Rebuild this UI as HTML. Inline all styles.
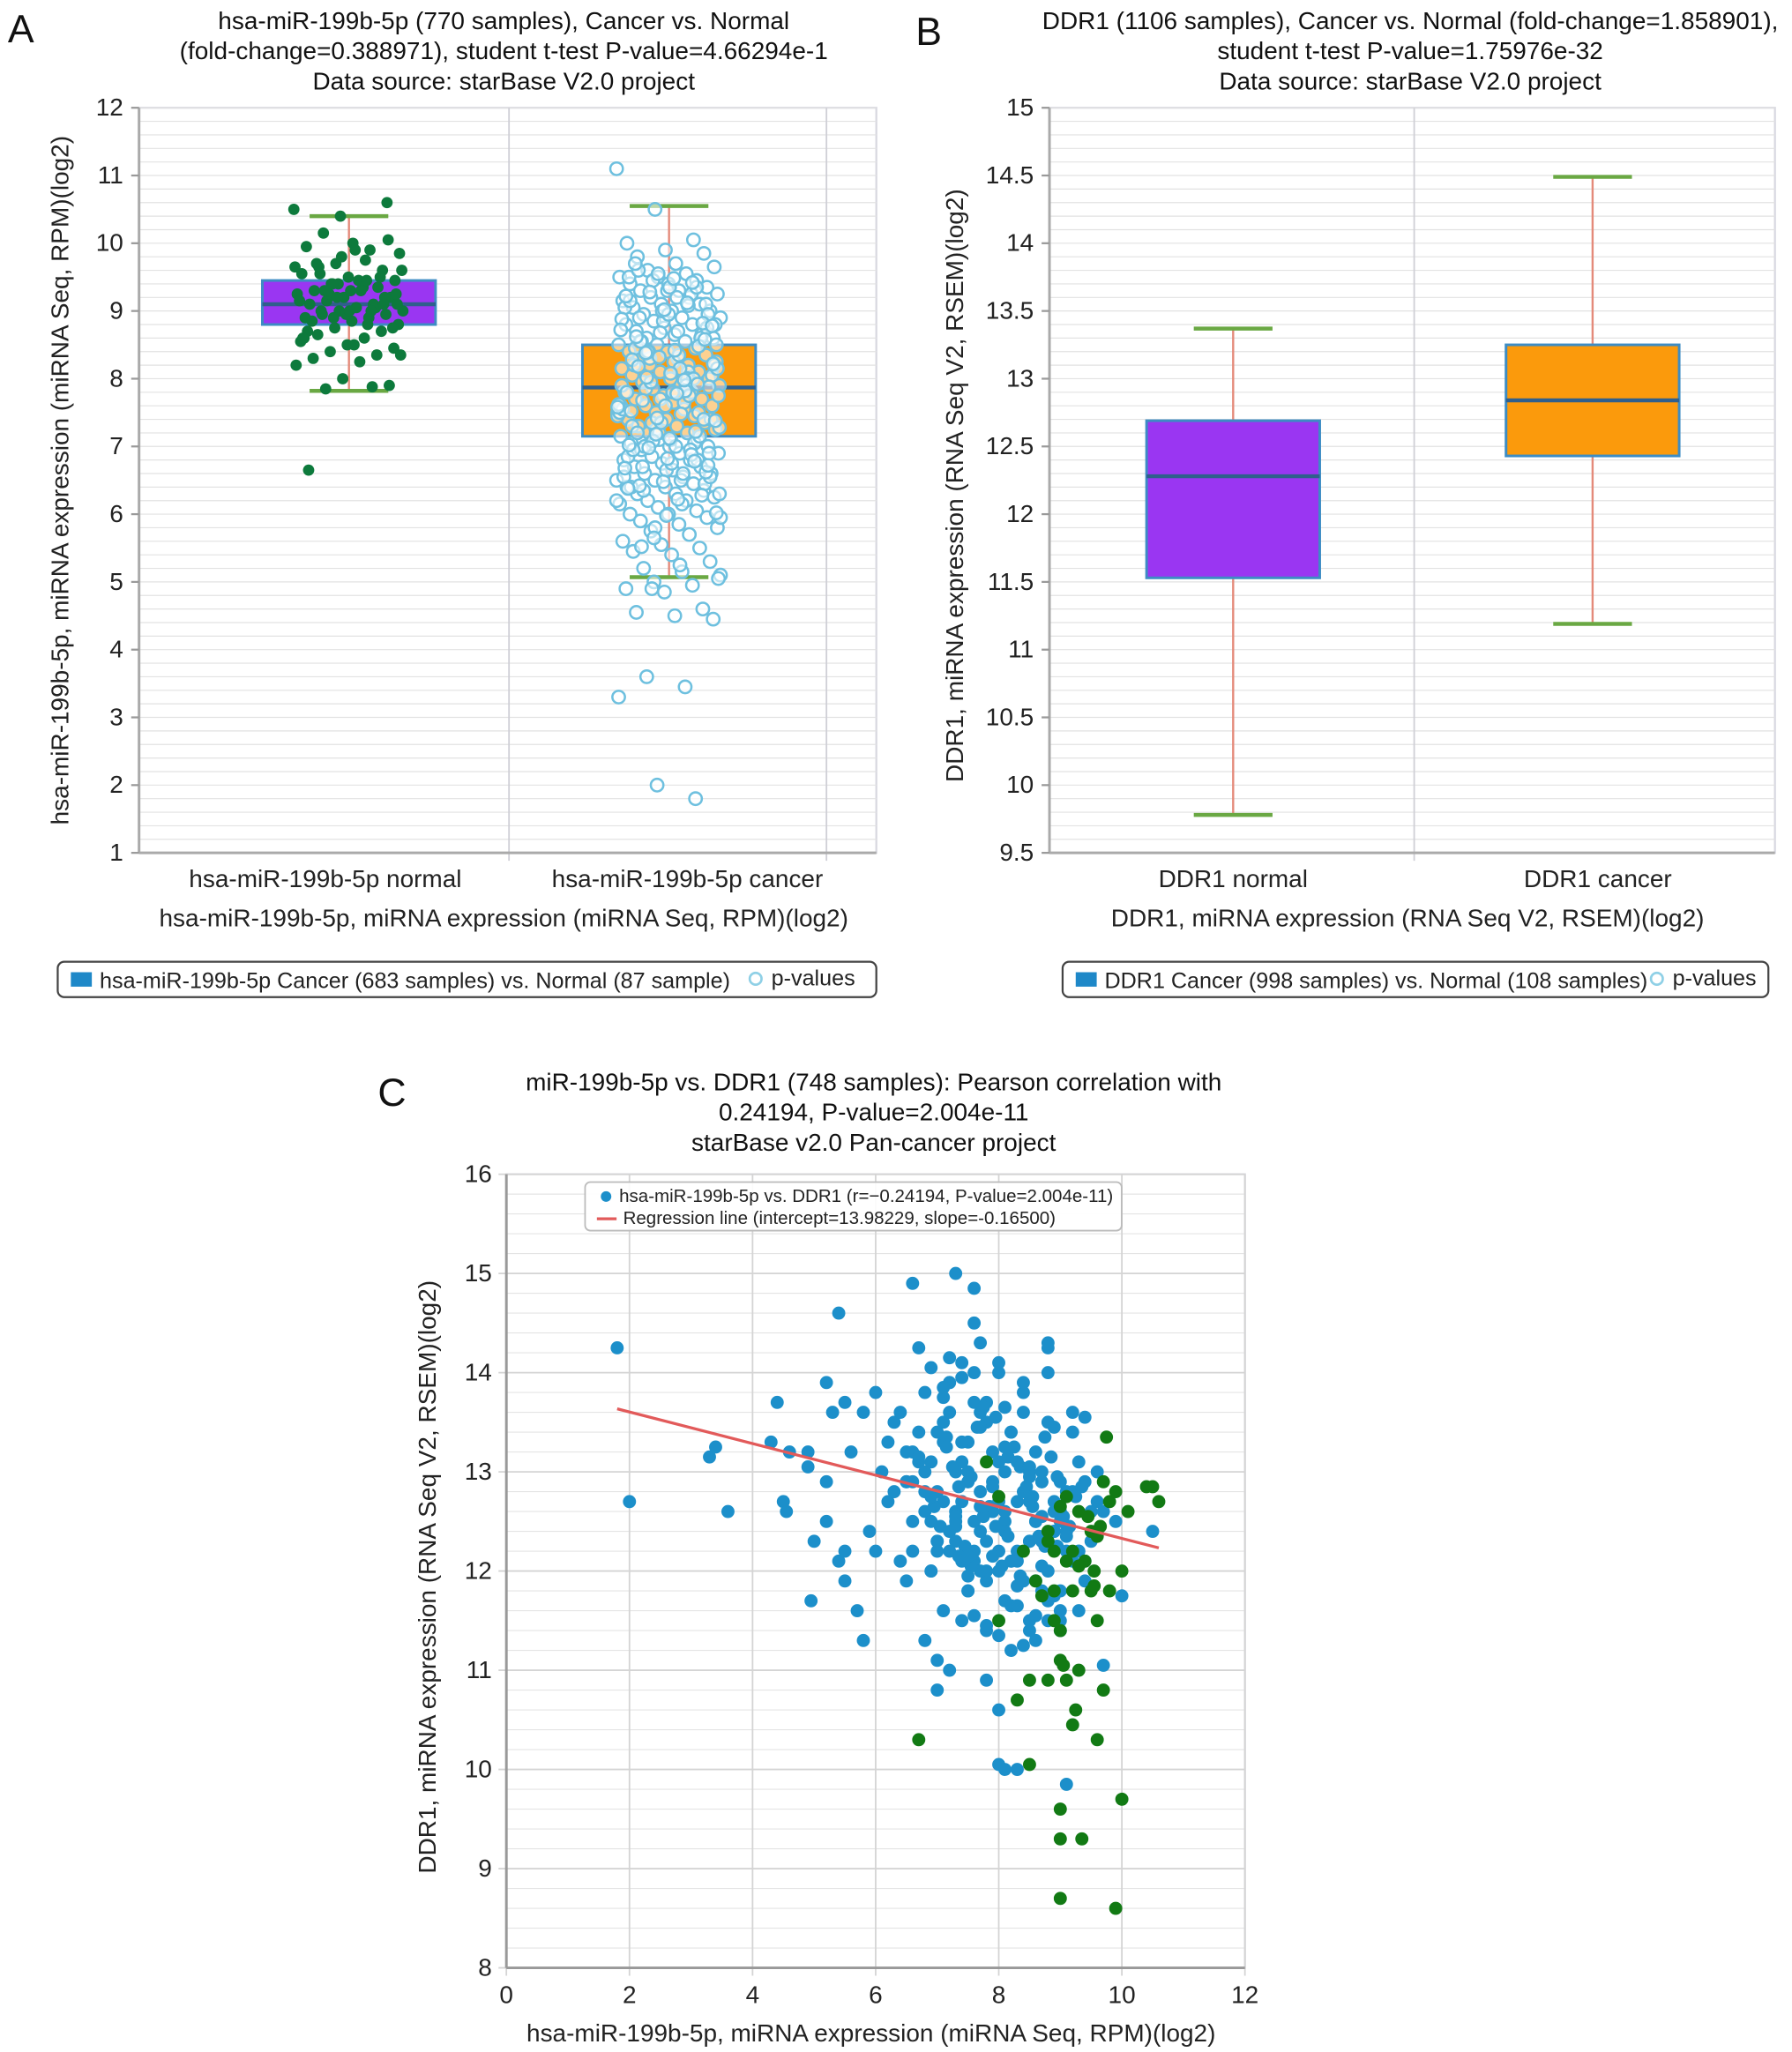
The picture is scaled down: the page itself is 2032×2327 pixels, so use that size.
<!DOCTYPE html>
<html><head><meta charset="utf-8"><style>
html,body{margin:0;padding:0;background:#fff}
svg{display:block;font-family:"Liberation Sans",sans-serif}
</style></head><body>
<svg id="fig" width="2032" height="2327" viewBox="0 0 1366 1564" xmlns="http://www.w3.org/2000/svg">
<g id="gA"></g>
<g id="gB"></g>
<g id="gC"></g>
</svg>
<script>
// Panel A data
const aCats = ["hsa-miR-199b-5p normal","hsa-miR-199b-5p cancer"];
const aQ1 = [8.8, 7.15];
const aQ3 = [9.45, 8.5];
const aMed = [9.1, 7.87];
const aLo = [7.82, 5.07];
const aHi = [10.4, 10.55];
const aTicks = [1,2,3,4,5,6,7,8,9,10,11,12];
const aNormal = [10.5,10.4,10.6,10.15,9.9,9.95,10.0,9.85,9.7,9.6,9.65,9.75,9.55,9.5,9.45,9.4,9.35,9.3,9.3,9.25,9.2,9.2,9.15,9.1,9.1,9.05,9.0,9.0,8.95,8.95,8.9,8.9,8.85,8.8,8.75,8.7,8.65,8.6,8.55,8.5,8.45,8.4,8.35,8.3,8.25,8.2,8.0,7.9,7.85,7.88,6.65,9.9,9.6,9.4,9.2,9.0,8.8,8.6,9.3,9.1,8.9,9.5,9.7,9.35,9.15,8.95,8.75,9.25,9.05,8.85,9.45,9.65,9.8,10.05,9.3,9.0,8.7,8.5,8.35,9.2,9.1,9.55,9.45,8.6,9.0,9.25,9.4];
const aCancer = [11.1,10.5,10.05,10.0,9.9,9.85,9.8,9.7,9.65,9.6,9.55,9.5,9.5,9.45,9.4,9.4,9.35,9.3,9.3,9.25,9.2,9.2,9.15,9.1,9.1,9.05,9.0,9.0,8.95,8.9,8.9,8.85,8.8,8.8,8.75,8.7,8.7,8.65,8.6,8.6,8.55,8.5,8.5,8.45,8.4,8.4,8.35,8.3,8.3,8.25,8.2,8.2,8.15,8.1,8.1,8.05,8.0,8.0,7.95,7.9,7.9,7.85,7.8,7.8,7.75,7.7,7.7,7.65,7.6,7.6,7.55,7.5,7.5,7.45,7.4,7.4,7.35,7.3,7.3,7.25,7.2,7.2,7.15,7.1,7.1,7.05,7.0,7.0,6.95,6.9,6.9,6.85,6.8,6.8,6.75,6.7,6.7,6.65,6.6,6.6,6.55,6.5,6.5,6.45,6.4,6.4,6.35,6.3,6.3,6.25,6.2,6.2,6.15,6.1,6.05,6.0,6.0,5.95,5.9,5.85,5.8,5.75,5.7,5.6,5.55,5.5,5.45,5.4,5.3,5.2,5.15,5.1,5.0,4.95,4.9,4.85,4.6,4.55,4.5,4.45,3.6,3.45,3.3,2.0,1.8,9.5,9.3,9.1,8.9,8.7,8.5,8.3,8.1,7.9,7.7,7.5,7.3,7.1,6.9,6.7,6.5,6.3,9.45,9.25,9.05,8.85,8.65,8.45,8.25,8.05,7.85,7.65,7.45,7.25,7.05,6.85,6.65,6.45,9.6,9.2,8.8,8.4,8.0,7.6,7.2,6.8,6.4,9.35,8.95,8.55,8.15,7.75,7.35,6.95,6.55,9.0,8.6,8.2,7.8,7.4,7.0,6.6,6.2,5.8,8.0,7.8,7.6,7.4,7.2,7.0,8.2,8.4,7.9,7.5,
9.55,9.35,9.15,8.95,8.75,8.55,8.35,8.15,7.95,7.75,7.55,7.35,7.15,6.95,6.75,6.55,6.35,6.15,5.95,5.65,9.42,9.22,9.02,8.82,8.62,8.42,8.22,8.02,7.82,7.62,7.42,7.22,7.02,6.82,6.62,6.42,6.22,6.02,9.28,9.08,8.88,8.68,8.48,8.28,8.08,7.88,7.68,7.48,7.28,7.08,6.88,6.68,6.48,6.28,9.7,9.48,8.78,8.38,7.98,7.58,7.18,6.78,6.38,5.98,8.58,8.18,7.78,7.38,6.98,9.12,8.72,8.32,7.92,7.52,7.12,6.72,5.52,5.25,5.05,4.9];
// Panel B data
const bCats = ["DDR1 normal","DDR1 cancer"];
const bQ1 = [11.53, 12.43];
const bQ3 = [12.69, 13.25];
const bMed = [12.28, 12.84];
const bLo = [9.78, 11.19];
const bHi = [13.37, 14.49];
const bTicks = [9.5,10,10.5,11,11.5,12,12.5,13,13.5,14,14.5,15];
// Panel C data
const cTicksX = [0,2,4,6,8,10,12];
const cTicksY = [8,9,10,11,12,13,14,15,16];
const cBlueX = [1.8,2,3.3,3.4,3.6,4.3,4.4,4.5,4.55,4.6,4.9,4.9,4.95,5.0,5.2,5.2,5.2,5.3,5.4,5.4,5.5,5.5,5.5,5.6,5.7,5.8,5.8,5.9,6.0,6.0,6.1,6.2,6.3,6.4,6.5,6.6,6.6,6.7,6.8,6.8,6.9,7.0,7.0,7.1,7.2,7.3,7.4,7.6,7.6,7.7,7.8,7.8,8.0,8.0,8.1,8.3,8.5,8.8,8.8,9.1,9.7,10.0,10.5,9.9,9.4,
6.5,6.6,6.7,6.8,6.9,7.0,7.1,7.2,7.3,7.4,7.5,7.6,7.7,7.8,7.9,8.0,8.1,8.2,8.3,8.4,8.5,8.6,8.7,8.8,8.9,9.0,9.1,9.2,9.3,9.4,
6.4,6.6,6.8,7.0,7.2,7.4,7.6,7.8,8.0,8.2,8.4,8.6,8.8,9.0,9.2,9.4,9.6,
6.5,6.7,6.9,7.1,7.3,7.5,7.7,7.9,8.1,8.3,8.5,8.7,8.9,9.1,9.3,9.5,
6.3,6.6,6.9,7.2,7.5,7.8,8.1,8.4,8.7,9.0,9.3,9.6,
6.8,7.0,7.2,7.4,7.6,7.8,8.0,8.2,8.4,8.6,8.8,9.0,9.2,
7.1,7.3,7.5,7.7,7.9,8.1,8.3,8.5,8.7,8.9,
6.2,6.5,7.0,7.5,8.0,8.5,9.0,9.5,
7.2,7.4,7.6,7.8,8.0,8.2,8.4,8.6,8.8,9.0,9.2,
7.0,7.3,7.6,7.9,8.2,8.5,8.8,9.1,9.4,9.7,
6.9,7.5,8.1,8.7,9.3,7.7,8.3,8.9,7.4,8.0,8.6,
7.05,7.25,7.45,7.65,7.85,8.05,8.25,8.45,8.65,8.85,9.05,9.25,
7.15,7.35,7.55,7.75,7.95,8.15,8.35,8.55,8.75,8.95,9.15,9.35,
6.95,7.15,7.35,7.55,7.75,7.95,8.15,8.35,8.55,8.75,8.95,
7.1,7.3,7.5,7.7,7.9,8.1,8.3,8.5,8.7,8.9,9.1,
6.7,6.9,7.1,7.3,7.5,7.7,7.9,8.1,8.3,8.5,8.7,8.9,
7.6,7.8,8.0,8.2,8.4,8.6,7.4,7.2,8.8,9.0];
const cBlueY = [14.25,12.7,13.15,13.25,12.6,13.3,13.7,12.7,12.6,13.2,13.2,13.05,11.7,12.3,12.9,12.5,13.9,13.6,14.6,12.1,12.2,11.9,13.7,13.2,11.6,11.3,13.6,12.4,12.2,13.8,13.0,12.7,13.5,12.1,11.9,14.9,12.5,14.25,11.3,12.8,14.05,11.1,10.8,11.6,11.0,15.0,14.1,14.85,14.5,14.3,11.9,10.9,10.6,10.05,10.0,10.0,11.4,14.25,14.3,9.85,11.05,11.75,12.4,12.5,13.55,
13.2,12.9,13.4,12.6,13.1,12.8,13.5,12.4,13.0,12.7,13.3,12.5,13.6,12.3,12.9,13.1,12.6,13.4,12.2,12.8,13.0,12.5,12.9,12.3,12.7,12.6,12.4,12.8,12.2,12.9,
13.6,12.2,13.8,12.3,13.9,12.1,13.7,12.0,14.0,12.1,13.8,11.9,13.5,11.8,13.4,11.9,13.0,
12.9,13.1,12.5,13.3,12.6,13.0,12.4,13.2,12.5,13.1,12.3,13.0,12.4,12.8,12.2,12.6,
12.8,13.2,12.0,13.6,11.8,13.7,11.7,13.6,11.8,12.9,11.6,12.7,
13.0,13.4,12.2,13.3,12.1,13.5,12.0,13.4,11.9,13.2,11.7,12.5,12.1,
12.7,12.3,12.9,12.0,12.6,12.4,12.1,12.7,12.3,12.4,
13.3,12.9,12.3,11.8,12.2,11.5,11.6,12.3,
13.9,11.5,14.0,11.4,14.1,11.2,13.9,11.3,14.0,11.5,13.6,
12.2,12.5,12.2,12.6,12.1,12.3,12.0,12.2,12.1,12.6,
12.0,12.9,13.0,12.9,13.1,12.8,12.7,12.6,13.1,12.7,12.5,
12.45,13.05,12.25,13.45,12.65,12.05,13.25,12.85,12.35,13.15,12.55,12.75,
13.35,12.15,12.95,12.55,13.55,12.35,13.05,12.75,12.25,12.95,12.45,12.85,
12.65,13.25,12.85,12.05,13.65,12.45,13.15,11.95,12.65,13.35,12.25,
13.75,12.55,12.15,13.45,12.85,13.65,11.85,13.05,12.55,11.75,12.35,
13.15,12.75,13.85,12.45,11.95,12.65,12.15,13.25,11.65,12.95,12.05,13.45,
11.55,11.45,11.35,11.65,11.25,11.55,13.95,14.15,11.5,11.4];
const cGreenX = [6.7,8.3,8.5,8.5,8.8,8.9,8.9,8.7,8.8,8.9,9.0,9.05,9.1,9.1,9.2,9.2,9.25,9.3,9.0,9.0,9.0,9.35,9.5,9.6,9.6,9.7,9.8,9.9,9.8,9.9,10.0,10.1,10.4,10.5,10.6,9.75,9.3,9.4,9.5,9.55,9.6,9.45,9.7,8.8,9.0,9.1,9.0,8.0,7.8,8.0,8.4,8.6,9.3,9.2,9.65,9.55,10.0];
const cGreenY = [10.3,10.7,10.05,10.9,10.9,11.5,11.8,11.75,12.3,12.2,11.1,11.05,10.9,12.1,12.2,10.45,10.6,11.0,9.6,9.3,8.7,9.3,12.4,11.5,10.3,10.8,12.7,12.8,11.8,8.6,9.7,12.6,12.85,12.85,12.7,13.35,12.6,12.1,11.8,12.0,12.35,12.55,12.9,12.4,12.65,12.75,11.4,11.5,13.1,12.75,12.2,11.9,12.05,11.8,12.45,11.85,12.0];
const cIntercept = 13.98229, cSlope = -0.165;

const NS = "http://www.w3.org/2000/svg";
function mk(parent, tag, attrs, text){
  const e = document.createElementNS(NS, tag);
  for (const k in attrs) e.setAttribute(k, attrs[k]);
  if (text !== undefined) e.textContent = text;
  parent.appendChild(e);
  return e;
}
const FS = 18.8;

function titleLines(g, cx, ys, lines){
  lines.forEach((t,i)=>{
    const e = mk(g,'text',{x:cx,y:ys[i],'text-anchor':'middle','font-size':FS,fill:'#111'},t);
    
    
  });
}

function boxPanel(g, opt){
  const {x0,x1,y0,y1,vmin,vmax,ticks,cats,centers,dividers,q1,q3,med,lo,hi,fills,ylab,ylabX,xtitle,xtitleX,minor} = opt;
  const yS = v => y1 - (v - vmin)/(vmax - vmin)*(y1 - y0);
  mk(g,'rect',{x:x0,y:y0,width:x1-x0,height:y1-y0,fill:'#fff',stroke:'#d8d8e0','stroke-width':1.5});
  for (let v=vmin; v<=vmax+1e-9; v+=minor){
    const l = mk(g,'line',{x1:x0,x2:x1,y1:yS(v),y2:yS(v),stroke:'#e2e2e2','stroke-width':0.8});
    
    
  }
  dividers.forEach(d=>mk(g,'line',{x1:d,x2:d,y1:y0,y2:y1+6,stroke:'#cfcfd6','stroke-width':1.2}));
  mk(g,'line',{x1:x0,x2:x0,y1:y0,y2:y1,stroke:'#aaa','stroke-width':2});
  mk(g,'line',{x1:x0,x2:x1,y1:y1,y2:y1,stroke:'#aaa','stroke-width':2});
  ticks.forEach(t=>{
    mk(g,'line',{x1:x0-6,x2:x0,y1:yS(t),y2:yS(t),stroke:'#999','stroke-width':1.5});
    const e = mk(g,'text',{x:x0-12,y:yS(t)+6,'text-anchor':'end','font-size':FS,fill:'#222'},String(t));
    
    
  });
  const bw = 66, cw = 30;
  cats.forEach((c,i)=>{
    const cx = centers[i];
    const wh = mk(g,'line',{x1:cx,x2:cx,y1:yS(hi[i]),y2:yS(lo[i]),stroke:'#e48a7a','stroke-width':1.6});
    
    
    const b = mk(g,'rect',{x:cx-bw,y:yS(q3[i]),width:2*bw,height:yS(q1[i])-yS(q3[i]),fill:fills[i],stroke:'#3d8cc4','stroke-width':2});
    
    
    const m = mk(g,'line',{x1:cx-bw,x2:cx+bw,y1:yS(med[i]),y2:yS(med[i]),stroke:'#2f5f8c','stroke-width':3});
    
    
    [hi[i],lo[i]].forEach(v=>{
      const cap = mk(g,'line',{x1:cx-cw,x2:cx+cw,y1:yS(v),y2:yS(v),stroke:'#6aa843','stroke-width':3});
      
      
    });
  });
  return yS;
}

function axisTexts(g, labels, xs, yrow, ylab, ylabX, ycen, xtitle, xtitleX){
  labels.forEach((c,i)=>{
    const xl = mk(g,'text',{x:xs[i],y:yrow,'text-anchor':'middle','font-size':FS,fill:'#222'},c);
    
    
  });
  const yl = mk(g,'text',{x:0,y:0,transform:`translate(${ylabX},${ycen}) rotate(-90)`,'text-anchor':'middle','font-size':FS,fill:'#222'},ylab);
  
  
  const xt = mk(g,'text',{x:xtitleX,y:yrow+30,'text-anchor':'middle','font-size':FS,fill:'#222'},xtitle);
  
  
}

function legendBox(g, x0, x1, text, circX){
  const r = mk(g,'rect',{x:x0,y:733,width:x1-x0,height:27,rx:5,fill:'#fff',stroke:'#444','stroke-width':1.5});
  
  
  mk(g,'rect',{x:x0+10,y:741,width:16,height:11,fill:'#1e88c8'});
  const t = mk(g,'text',{x:x0+32,y:753,'font-size':16.9,fill:'#222'},text);
  
  
  mk(g,'circle',{cx:circX,cy:746,r:4.5,fill:'none',stroke:'#8fd0e6','stroke-width':1.8});
  const p = mk(g,'text',{x:circX+12,y:751,'font-size':16.9,fill:'#222'},'p-values');
  
  
}

// ---------- Panel A ----------
const gA = document.getElementById('gA');
const la = mk(gA,'text',{x:6,y:32,'font-size':30,fill:'#111'},'A');


titleLines(gA,384,[22,45,68],["hsa-miR-199b-5p (770 samples), Cancer vs. Normal","(fold-change=0.388971), student t-test P-value=4.66294e-1","Data source: starBase V2.0 project"]);
const yA = boxPanel(gA,{x0:106,x1:668,y0:82,y1:650,vmin:1,vmax:12,ticks:aTicks,cats:aCats,centers:[266,510],dividers:[388,630],
  q1:aQ1,q3:aQ3,med:aMed,lo:aLo,hi:aHi,fills:['#9a36f2','#fb9a0c'],minor:0.2});
aCancer.forEach((v,i)=>{
  const jx = (((i*37)%101)/101 - 0.5)*80;
  const c = mk(gA,'circle',{cx:510+jx,cy:yA(v),r:4.8,fill:'rgba(255,255,255,0.55)',stroke:'#6ec0df','stroke-width':1.7});
  
  
});
aNormal.forEach((v,i)=>{
  const jx = (((i*41)%97)/97 - 0.5)*84;
  const c = mk(gA,'circle',{cx:266+jx,cy:yA(v),r:4.3,fill:'#0d7a3c'});
  
  
});
axisTexts(gA,aCats,[248,524],676,"hsa-miR-199b-5p, miRNA expression (miRNA Seq, RPM)(log2)",52,366,"hsa-miR-199b-5p, miRNA expression (miRNA Seq, RPM)(log2)",384);
legendBox(gA,44,668,"hsa-miR-199b-5p Cancer (683 samples) vs. Normal (87 sample)",576);

// ---------- Panel B ----------
const gB = document.getElementById('gB');
const lb = mk(gB,'text',{x:698,y:34,'font-size':30,fill:'#111'},'B');


titleLines(gB,1075,[22,45,68],["DDR1 (1106 samples), Cancer vs. Normal (fold-change=1.858901),","student t-test P-value=1.75976e-32","Data source: starBase V2.0 project"]);
boxPanel(gB,{x0:800,x1:1353,y0:82,y1:650,vmin:9.5,vmax:15,ticks:bTicks,cats:bCats,centers:[940,1214],dividers:[1078],
  q1:bQ1,q3:bQ3,med:bMed,lo:bLo,hi:bHi,fills:['#9a36f2','#fb9a0c'],minor:0.1});
axisTexts(gB,bCats,[940,1218],676,"DDR1, miRNA expression (RNA Seq V2, RSEM)(log2)",734,370,"DDR1, miRNA expression (RNA Seq V2, RSEM)(log2)",1073);
legendBox(gB,810,1348,"DDR1 Cancer (998 samples) vs. Normal (108 samples)",1263);

// ---------- Panel C ----------
const gC = document.getElementById('gC');
const lc = mk(gC,'text',{x:288,y:843,'font-size':30,fill:'#111'},'C');


titleLines(gC,666,[831,854,877],["miR-199b-5p vs. DDR1 (748 samples): Pearson correlation with","0.24194, P-value=2.004e-11","starBase v2.0 Pan-cancer project"]);
const cx0=386,cx1=949,cy0=895,cy1=1500;
const xC = v => cx0 + v/12*(cx1-cx0);
const yC = v => cy1 - (v-8)/8*(cy1-cy0);
mk(gC,'rect',{x:cx0,y:cy0,width:cx1-cx0,height:cy1-cy0,fill:'#fff',stroke:'#d8d8e0','stroke-width':1.5});
for (let v=8; v<=16+1e-9; v+=0.2){
  const l = mk(gC,'line',{x1:cx0,x2:cx1,y1:yC(v),y2:yC(v),stroke:'#e4e4e4','stroke-width':0.8});
  
  
}
cTicksX.forEach(t=>{
  mk(gC,'line',{x1:xC(t),x2:xC(t),y1:cy0,y2:cy1+6,stroke:'#d4d4d4','stroke-width':1.2});
  const e = mk(gC,'text',{x:xC(t),y:cy1+27,'text-anchor':'middle','font-size':FS,fill:'#222'},String(t));
  
  
});
cTicksY.forEach(t=>{
  mk(gC,'line',{x1:cx0-6,x2:cx1,y1:yC(t),y2:yC(t),stroke:'#d4d4d4','stroke-width':1.2});
  const e = mk(gC,'text',{x:cx0-11,y:yC(t)+6,'text-anchor':'end','font-size':FS,fill:'#222'},String(t));
  
  
});
mk(gC,'line',{x1:cx0,x2:cx0,y1:cy0,y2:cy1,stroke:'#999','stroke-width':2});
mk(gC,'line',{x1:cx0,x2:cx1,y1:cy1,y2:cy1,stroke:'#999','stroke-width':2});
cBlueX.forEach((x,i)=>{
  const c = mk(gC,'circle',{cx:xC(x),cy:yC(cBlueY[i]),r:5,fill:'#1c8fca'});
  
  
});
cGreenX.forEach((x,i)=>{
  const c = mk(gC,'circle',{cx:xC(x),cy:yC(cGreenY[i]),r:5,fill:'#127a14'});
  
  
});
const rx1=1.8, rx2=10.6;
const reg = mk(gC,'line',{x1:xC(rx1),y1:yC(cIntercept+cSlope*rx1-0.05),x2:xC(rx2),y2:yC(cIntercept+cSlope*rx2),stroke:'#e25a5a','stroke-width':2.2});


const lg = mk(gC,'rect',{x:446,y:901,width:409,height:37,rx:4,fill:'rgba(255,255,255,0.9)',stroke:'#bbb','stroke-width':1.2});


mk(gC,'circle',{cx:462,cy:912,r:4,fill:'#1c8fca'});
const t1 = mk(gC,'text',{x:472,y:916,'font-size':13.8,fill:'#222'},"hsa-miR-199b-5p vs. DDR1 (r=\u22120.24194, P-value=2.004e-11)");


mk(gC,'line',{x1:455,x2:470,y1:929,y2:929,stroke:'#e25a5a','stroke-width':2.2});
const t2 = mk(gC,'text',{x:475,y:933,'font-size':13.8,fill:'#222'},"Regression line (intercept=13.98229, slope=-0.16500)");


const cyl = mk(gC,'text',{x:0,y:0,transform:`translate(332,1202) rotate(-90)`,'text-anchor':'middle','font-size':FS,fill:'#222'},"DDR1, miRNA expression (RNA Seq V2, RSEM)(log2)");


const cxl = mk(gC,'text',{x:664,y:1556,'text-anchor':'middle','font-size':FS,fill:'#222'},"hsa-miR-199b-5p, miRNA expression (miRNA Seq, RPM)(log2)");


</script>
</body></html>
